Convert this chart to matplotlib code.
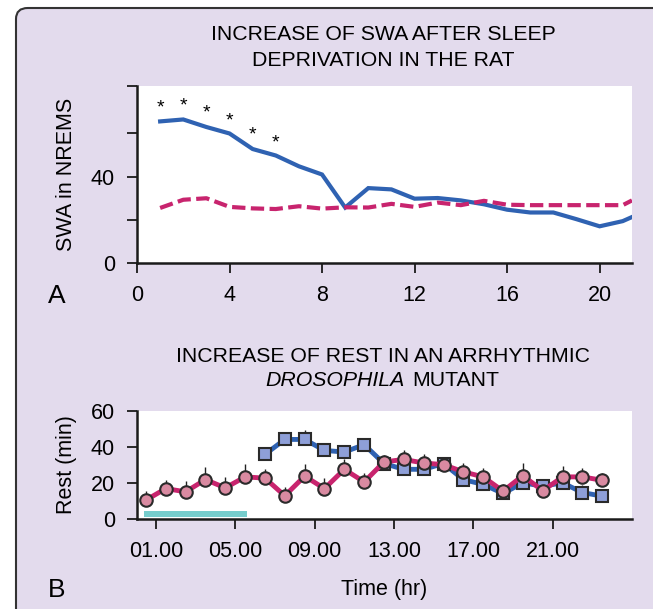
import numpy as np
import matplotlib
matplotlib.use("Agg")
import matplotlib.pyplot as plt
from matplotlib.patches import FancyBboxPatch

plt.rcParams['font.family'] = ['Liberation Sans', 'DejaVu Sans']

# Panel A: SWA in NREMS after sleep deprivation
swa_hours = [1, 2, 3, 4, 5, 6, 7, 8, 9, 10, 11, 12, 13, 14, 15, 16, 17, 18, 19, 20, 21, 21.4]
swa_deprived = [65.6, 66.5, 63, 60, 52.8, 49.8, 44.8, 41, 25.7, 34.7, 34.1, 29.8, 30.1,
                29, 27.2, 24.7, 23.4, 23.4, 20.3, 17, 19.4, 21.3]
swa_baseline = [25.5, 29.3, 30, 26, 25.3, 25, 26.3, 25.2, 25.8, 25.7, 27.4, 26, 28,
                26.8, 28.8, 27, 26.8, 26.8, 26.8, 26.8, 26.8, 29]
star_hours = [1, 2, 3, 4, 5, 6]
star_values = [71.7, 72.7, 69.7, 65.9, 59.3, 55.8]

# Panel B: rest in arrhythmic Drosophila mutant
rest_hours = [h + 0.5 for h in range(24)]
rest_baseline = [10.5, 16.9, 15.1, 21.9, 17.3, 23.4, 22.7, 12.9, 23.8, 16.9, 27.6, 20.6,
                 31.7, 33.1, 31.1, 30.2, 26.2, 23.4, 15.5, 24.1, 15.7, 23.4, 23.4, 21.5]
rest_baseline_err = [5, 5, 6, 7, 6, 7, 5, 5, 7, 6, 6, 5, 4, 5, 5, 4, 5, 5, 4, 7, 4, 6, 5, 4]
dep_hours = [h + 0.5 for h in range(6, 24)]
rest_deprived = [35.9, 44.2, 44.2, 38.1, 37.2, 41.3, 30.8, 27.6, 27.6, 30.8, 21.9, 19.2,
                 14.2, 20.1, 18.2, 20.1, 14.7, 12.7]
rest_deprived_err = [4, 4, 5, 4, 4, 3, 4, 4, 4, 3, 4, 4, 3, 4, 3, 4, 4, 4]
dep_period = (0.4, 5.6)
tick_hours = [1, 5, 9, 13, 17, 21]
tick_labels = ['01.00', '05.00', '09.00', '13.00', '17.00', '21.00']

blue = '#2f62b2'
magenta = '#c8246e'
lavender = '#e3dbed'

fig = plt.figure(figsize=(6.53, 6.09), dpi=100)
fig.patch.set_facecolor('white')
panel = FancyBboxPatch((16 / 653, 1 - 630 / 609), 700 / 653, 622 / 609,
                       boxstyle='round,pad=0,rounding_size=0.018',
                       transform=fig.transFigure, facecolor=lavender,
                       edgecolor='#333333', linewidth=1.5, zorder=-5)
fig.patches.append(panel)

# ---- panel A
ax1 = fig.add_axes([137 / 653, 1 - 263 / 609, 495 / 653, 177 / 609])
ax1.plot(swa_hours, swa_deprived, color=blue, lw=3, solid_joinstyle='miter')
ax1.plot(swa_hours, swa_baseline, color=magenta, lw=3, ls=(0, (3.2, 1.3)))
for h, v in zip(star_hours, star_values):
    ax1.text(h, v, '*', ha='center', va='center', fontsize=14)
ax1.set_xlim(0, 21.4)
ax1.set_ylim(0, 82)
ax1.set_xticks([0, 4, 8, 12, 16, 20])
ax1.set_yticks([0, 20, 40, 60, 82])
ax1.set_yticklabels(['0', '', '40', '', ''])
ax1.set_ylabel('SWA in NREMS', fontsize=15.5, labelpad=10)

# ---- panel B
ax2 = fig.add_axes([137 / 653, 1 - 519 / 609, 495 / 653, 108 / 609])
ax2.broken_barh([(dep_period[0], dep_period[1] - dep_period[0])], (0.9, 3.4),
                facecolor='#76cdcc', zorder=1)
ax2.errorbar(dep_hours, rest_deprived, yerr=[np.zeros(len(rest_deprived_err)), rest_deprived_err],
             fmt='none', ecolor='#222222', elinewidth=1, zorder=2)
ax2.errorbar(rest_hours, rest_baseline, yerr=[np.zeros(len(rest_baseline_err)), rest_baseline_err],
             fmt='none', ecolor='#222222', elinewidth=1, zorder=2)
ax2.plot(dep_hours, rest_deprived, color=blue, lw=3.5, marker='s', ms=9,
         markerfacecolor='#8e9fd8', markeredgecolor='#2a2a2a', markeredgewidth=1.5, zorder=3)
ax2.plot(rest_hours, rest_baseline, color=magenta, lw=3.5, marker='o', ms=9,
         markerfacecolor='#d98aa1', markeredgecolor='#2a2a2a', markeredgewidth=1.5, zorder=4)
ax2.set_xlim(0.05, 25)
ax2.set_ylim(0, 60)
ax2.set_xticks(tick_hours)
ax2.set_xticklabels(tick_labels)
ax2.set_yticks([0, 20, 40, 60])
ax2.set_ylabel('Rest (min)', fontsize=15.5, labelpad=10)
ax2.set_xlabel('Time (hr)', fontsize=15.5, labelpad=12)

for ax in (ax1, ax2):
    ax.set_facecolor('white')
    for s in ('top', 'right'):
        ax.spines[s].set_visible(False)
    for s in ('left', 'bottom'):
        ax.spines[s].set_linewidth(1.8)
        ax.spines[s].set_color('#1a1a1a')
    ax.tick_params(direction='out', length=7, width=1.3, labelsize=15.5, pad=9,
                   color='#1a1a1a')

fig.text(383 / 653, 1 - 35 / 609, 'INCREASE OF SWA AFTER SLEEP', ha='center', va='center', fontsize=15.3)
fig.text(383 / 653, 1 - 61 / 609, 'DEPRIVATION IN THE RAT', ha='center', va='center', fontsize=15.3)
fig.text(383 / 653, 1 - 356 / 609, 'INCREASE OF REST IN AN ARRHYTHMIC', ha='center', va='center', fontsize=15.3)
fig.text(405 / 653, 1 - 381 / 609, 'DROSOPHILA', ha='right', va='center', fontsize=15.3, style='italic')
fig.text(412 / 653, 1 - 381 / 609, 'MUTANT', ha='left', va='center', fontsize=15.3)
fig.text(57 / 653, 1 - 296 / 609, 'A', ha='center', va='center', fontsize=19)
fig.text(57 / 653, 1 - 590 / 609, 'B', ha='center', va='center', fontsize=19)

fig.savefig('out.png', dpi=100)
